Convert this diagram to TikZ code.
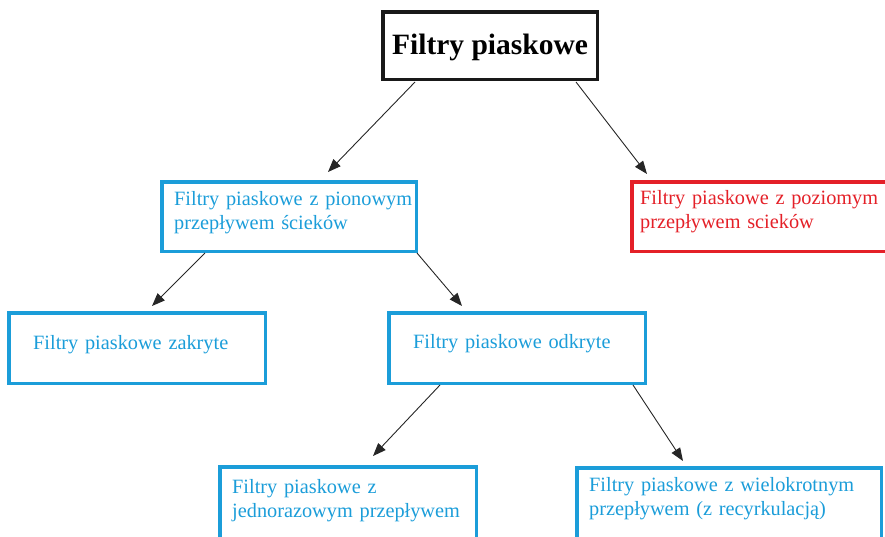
\documentclass[tikz,border=0pt]{standalone}
\usepackage{fontspec}
\setmainfont{Liberation Serif}
\usetikzlibrary{arrows.meta}
\definecolor{filtrblue}{RGB}{27,157,217}
\definecolor{filtrred}{RGB}{228,32,40}
\begin{document}
\begin{tikzpicture}[x=1pt, y=1pt,
    box/.style={draw=filtrblue, line width=3.5pt, anchor=north west, inner sep=0pt},
    txt/.style={anchor=base west, inner sep=0pt, align=left, text=filtrblue,
      font=\fontsize{20.3}{24.5}\selectfont},
    arr/.style={-{Triangle[length=13pt,width=10pt]}, line width=0.9pt, draw=black!85}]
  \clip (0,0) rectangle (885,-536);
  \node [draw=black!90, line width=3.5pt, minimum width=214.5pt, minimum height=67.5pt,
    inner sep=0pt, font=\fontsize{29.5}{34}\selectfont\bfseries,
    text height=20pt, text depth=3pt] (top) at (490,-45.5) {Filtry piaskowe};
  \node [box, minimum width=254.5pt, minimum height=69.5pt] (vert) at (160,-180) {};
  \node [box, draw=filtrred, minimum width=300pt, minimum height=69.5pt] (hor) at (630,-180) {};
  \node [box, minimum width=256.5pt, minimum height=70.5pt] (zak) at (7,-311) {};
  \node [box, minimum width=256.5pt, minimum height=70.5pt] (odk) at (387,-311) {};
  \node [box, minimum width=256.5pt, minimum height=120pt] (jed) at (218,-465) {};
  \node [box, minimum width=304.5pt, minimum height=120pt] (wiel) at (575,-466) {};
  \node [txt, text width=270pt] (vertT) at (174,-205) {Filtry piaskowe z pionowym\\przepływem ścieków};
  \node [txt, text width=270pt, text=filtrred] (horT) at (640,-204) {Filtry piaskowe z poziomym\\przepływem scieków};
  \node [txt, text width=230pt] (zakT) at (33,-349) {Filtry piaskowe zakryte};
  \node [txt, text width=230pt] (odkT) at (413,-348) {Filtry piaskowe odkryte};
  \node [txt, text width=260pt] (jedT) at (232,-493) {Filtry piaskowe z\\jednorazowym przepływem};
  \node [txt, text width=290pt] (wielT) at (589,-491) {Filtry piaskowe z wielokrotnym\\przepływem (z recyrkulacją)};
  \draw [arr] ([xshift=34pt,yshift=-1pt]top.south west) -- ([xshift=168pt,yshift=8pt]vert.north west);
  \draw [arr] ([xshift=-23pt,yshift=-1pt]top.south east) -- ([xshift=17pt,yshift=6pt]hor.north west);
  \draw [arr] ([xshift=45pt]vert.south west) -- ([xshift=145pt,yshift=5pt]zak.north west);
  \draw [arr] ([xshift=-1pt]vert.south east) -- ([xshift=75pt,yshift=5pt]odk.north west);
  \draw [arr] ([xshift=53pt]odk.south west) -- ([xshift=155pt,yshift=9pt]jed.north west);
  \draw [arr] ([xshift=-14pt]odk.south east) -- ([xshift=108pt,yshift=5pt]wiel.north west);
\end{tikzpicture}
\end{document}
